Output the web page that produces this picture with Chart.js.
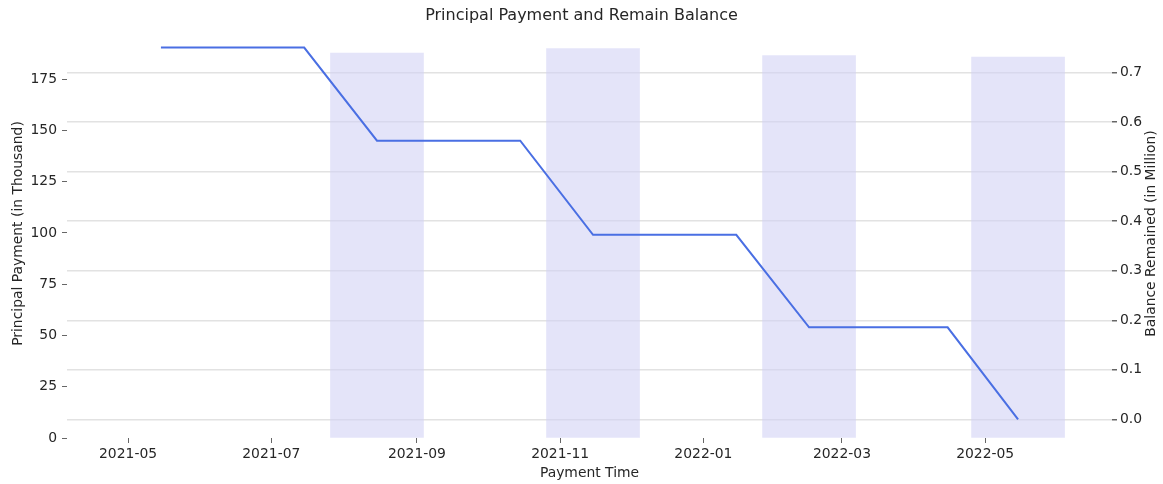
<!DOCTYPE html>
<html>
<head>
<meta charset="utf-8">
<script src="https://cdn.jsdelivr.net/npm/chart.js@4/dist/chart.umd.min.js"></script>
<style>
  html, body { margin: 0; padding: 0; background: #ffffff; }
  #wrap { width: 1163px; height: 484px; position: relative; }
</style>
</head>
<body>
<div id="wrap"><canvas id="c" width="1163" height="484"></canvas></div>
<script>
// ---- data ----
const balanceDates = ['2021-05-15','2021-06-15','2021-07-15','2021-08-15','2021-09-15','2021-10-15','2021-11-15','2021-12-15','2022-01-15','2022-02-15','2022-03-15','2022-04-15','2022-05-15'];
const balanceValues = [0.75, 0.75, 0.75, 0.5623, 0.5623, 0.5623, 0.3723, 0.3723, 0.3723, 0.1858, 0.1858, 0.1858, 0.0];
const paymentDates = ['2021-08-15','2021-11-15','2022-02-15','2022-05-15'];
const paymentValues = [187.7, 190.0, 186.5, 185.8];
const xTickLabels = ['2021-05','2021-07','2021-09','2021-11','2022-01','2022-03','2022-05'];
const leftTicks = [0, 25, 50, 75, 100, 125, 150, 175];
const rightTicks = [0.0, 0.1, 0.2, 0.3, 0.4, 0.5, 0.6, 0.7];
const xRange = ['2021-04-05', '2022-06-24'];
const rightTitle = 'Balance Remained (in Million)';

// ---- helpers ----
const dayOf = s => {
  const p = s.split('-').map(Number);
  return Date.UTC(p[0], p[1] - 1, p.length > 2 ? p[2] : 1) / 86400000;
};
const labelOf = v => {
  const d = new Date(v * 86400000);
  return d.getUTCFullYear() + '-' + String(d.getUTCMonth() + 1).padStart(2, '0');
};

const FONT = "'DejaVu Sans', sans-serif";
const TXT = '#262626';

// right axis title reads bottom-to-top, like matplotlib's twin axis label
const rightTitlePlugin = {
  id: 'rightTitle',
  afterDraw(chart) {
    const ctx = chart.ctx;
    ctx.save();
    ctx.translate(1151, (chart.chartArea.top + chart.chartArea.bottom) / 2);
    ctx.rotate(-Math.PI / 2);
    ctx.fillStyle = TXT;
    ctx.font = "13.9px " + FONT;
    ctx.textAlign = 'center';
    ctx.textBaseline = 'middle';
    ctx.fillText(rightTitle, 0, 0);
    ctx.restore();
  }
};

const chart = new Chart(document.getElementById('c'), {
  data: {
    datasets: [
      {
        type: 'line',
        label: 'Balance',
        data: balanceDates.map((d, i) => ({ x: dayOf(d), y: balanceValues[i] })),
        yAxisID: 'y2',
        borderColor: '#4a6fe3',
        borderWidth: 2,
        pointRadius: 0,
        tension: 0,
        fill: false,
        order: 0
      },
      {
        type: 'bar',
        label: 'Principal',
        data: paymentDates.map((d, i) => ({ x: dayOf(d), y: paymentValues[i] })),
        yAxisID: 'y',
        backgroundColor: 'rgba(210,210,245,0.6)',
        borderWidth: 0,
        barThickness: 93,
        order: 1
      }
    ]
  },
  plugins: [rightTitlePlugin],
  options: {
    responsive: false,
    animation: false,
    layout: { padding: 0 },
    plugins: {
      legend: { display: false },
      tooltip: { enabled: false },
      title: {
        display: true,
        text: 'Principal Payment and Remain Balance',
        color: TXT,
        font: { family: FONT, size: 16, weight: 'normal' },
        padding: { top: 6.4, bottom: 3.4 }
      }
    },
    scales: {
      x: {
        type: 'linear',
        min: dayOf(xRange[0]),
        max: dayOf(xRange[1]),
        offset: false,
        afterBuildTicks: s => { s.ticks = xTickLabels.map(l => ({ value: dayOf(l) })); },
        afterFit: s => { s.height = 46; },
        ticks: {
          autoSkip: false,
          maxRotation: 0,
          padding: 3,
          color: TXT,
          font: { family: FONT, size: 13.9 },
          callback: v => labelOf(v)
        },
        grid: { offset: false, drawOnChartArea: false, drawTicks: true, tickLength: 5, color: '#666666', lineWidth: 1 },
        border: { display: false },
        title: {
          display: true,
          text: 'Payment Time',
          color: TXT,
          font: { family: FONT, size: 13.9 },
          padding: { top: 0, bottom: 2.7 }
        }
      },
      y: {
        type: 'linear',
        position: 'left',
        min: 0,
        max: 199.5,
        afterBuildTicks: s => { s.ticks = leftTicks.map(v => ({ value: v })); },
        afterFit: s => { s.width = 67; },
        ticks: {
          padding: 5,
          color: TXT,
          font: { family: FONT, size: 13.9 },
          callback: v => String(v)
        },
        grid: { drawOnChartArea: false, drawTicks: true, tickLength: 5, color: '#666666', lineWidth: 1 },
        border: { display: false },
        title: {
          display: true,
          text: 'Principal Payment (in Thousand)',
          color: TXT,
          font: { family: FONT, size: 13.9 },
          padding: { top: 9.7, bottom: 0 }
        }
      },
      y2: {
        type: 'linear',
        position: 'right',
        min: -0.0375,
        max: 0.7875,
        afterBuildTicks: s => { s.ticks = rightTicks.map(v => ({ value: v })); },
        afterFit: s => { s.width = 51; },
        ticks: {
          padding: 3,
          color: TXT,
          font: { family: FONT, size: 13.9 },
          callback: v => Number(v).toFixed(1)
        },
        grid: {
          drawOnChartArea: true,
          drawTicks: true,
          tickLength: 5,
          color: '#e2e2e2',
          tickColor: '#666666',
          lineWidth: 1.5
        },
        border: { display: false },
        title: { display: false }
      }
    }
  }
});
</script>
</body>
</html>
